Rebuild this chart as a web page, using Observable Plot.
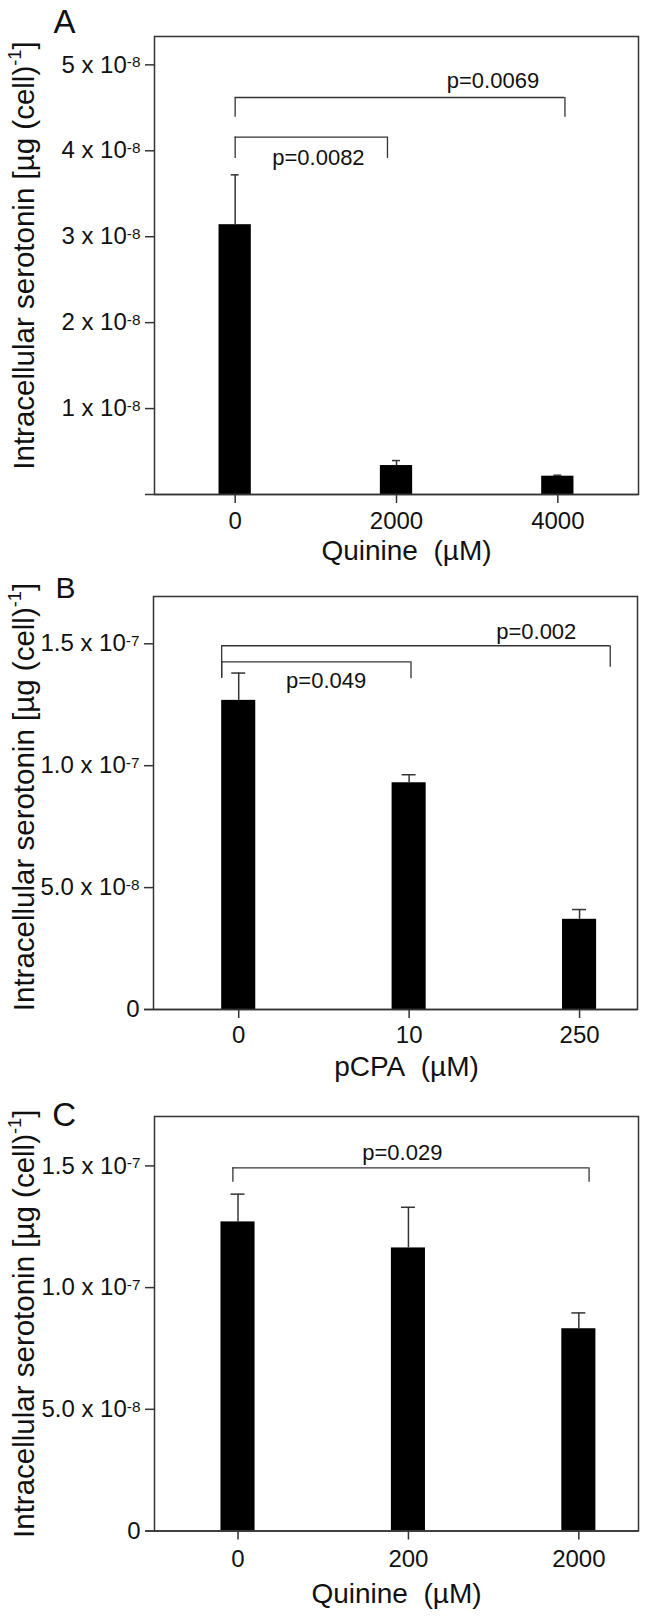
<!DOCTYPE html>
<html><head><meta charset="utf-8">
<script src="https://cdn.jsdelivr.net/npm/d3@7"></script>
<script src="https://cdn.jsdelivr.net/npm/@observablehq/plot@0.6"></script>
<style>
body{margin:0;background:#fff;}
#wrap{position:relative;width:646px;height:1618px;overflow:hidden;}
.panel{position:absolute;left:0;}
</style></head>
<body><div id="wrap"></div>
<script>
// ---------- Panel A: Quinine ----------
const catsA = ["0", "2000", "4000"];
const meanA = [3.14e-8, 0.337e-8, 0.213e-8];
const semA = [0.58e-8, 0.058e-8, 0.011e-8];
const yTicksA = [1e-8, 2e-8, 3e-8, 4e-8, 5e-8];
const yTickLabelsA = ["1 x 10^-8", "2 x 10^-8", "3 x 10^-8", "4 x 10^-8", "5 x 10^-8"];
const brFromA = [0, 0];
const brToA = [0.944, 2.044];
const brYA = [4.16e-8, 4.62e-8];
const brLeftEndA = [3.91e-8, 4.39e-8];
const brRightEndA = [3.91e-8, 4.39e-8];
const pTextA = ["p=0.0082", "p=0.0069"];
const pXA = [0.516, 1.598];
const pYA = [3.834e-8, 4.729e-8];

// ---------- Panel B: pCPA ----------
const catsB = ["0", "10", "250"];
const meanB = [1.268e-7, 0.930e-7, 0.370e-7];
const semB = [0.112e-7, 0.033e-7, 0.040e-7];
const yTicksB = [0, 5e-8, 1e-7, 1.5e-7];
const yTickLabelsB = ["0", "5.0 x 10^-8", "1.0 x 10^-7", "1.5 x 10^-7"];
const brFromB = [-0.1, -0.1];
const brToB = [1.011, 2.18];
const brYB = [1.426e-7, 1.492e-7];
const brLeftEndB = [1.359e-7, 1.359e-7];
const brRightEndB = [1.357e-7, 1.404e-7];
const pTextB = ["p=0.049", "p=0.002"];
const pXB = [0.513, 1.746];
const pYB = [1.317e-7, 1.519e-7];

// ---------- Panel C: Quinine ----------
const catsC = ["0", "200", "2000"];
const meanC = [1.270e-7, 1.163e-7, 0.831e-7];
const semC = [0.114e-7, 0.167e-7, 0.065e-7];
const yTicksC = [0, 5e-8, 1e-7, 1.5e-7];
const yTickLabelsC = ["0", "5.0 x 10^-8", "1.0 x 10^-7", "1.5 x 10^-7"];
const brFromC = [-0.03];
const brToC = [2.06];
const brYC = [1.492e-7];
const brLeftEndC = [1.433e-7];
const brRightEndC = [1.433e-7];
const pTextC = ["p=0.029"];
const pXC = [0.964];
const pYC = [1.525e-7];

const letters = ["A", "B", "C"];
const xTitles = ["Quinine\u00a0 (\u00b5M)", "pCPA\u00a0 (\u00b5M)", "Quinine\u00a0 (\u00b5M)"];
const yTitle = "Intracellular serotonin [\u00b5g (cell)^-1^]";

const FONT = '"Liberation Sans", Arial, Helvetica, sans-serif';
const LINE = "#333";

function addSup(svg) {
  svg.querySelectorAll("text").forEach(t => {
    const s = t.textContent;
    if (!s.includes("^")) return;
    const parts = s.split("^");
    const fs = parseFloat(getComputedStyle(t).fontSize) || 22;
    const big = s.length > 20;
    const shift = (big ? 0.42 : 0.22) * fs;
    const supSize = (big ? 0.62 : 0.64) * fs;
    t.textContent = "";
    parts.forEach((p, k) => {
      const ts = document.createElementNS("http://www.w3.org/2000/svg", "tspan");
      ts.textContent = p;
      if (k === 1) { ts.setAttribute("font-size", supSize); ts.setAttribute("dy", -shift); }
      if (k === 2) { ts.setAttribute("dy", shift); }
      t.appendChild(ts);
    });
  });
}

function panel(o) {
  const idx = o.cats.map((_, i) => i);
  const bIdx = o.brFrom.map((_, i) => i);
  const pIdx = o.pText.map((_, i) => i);
  const chart = Plot.plot({
    width: 646,
    height: o.height,
    marginTop: o.m[0], marginRight: o.m[1], marginBottom: o.m[2], marginLeft: o.m[3],
    style: {fontFamily: FONT, color: "#111", background: "white", overflow: "visible"},
    x: {type: "linear", domain: o.xDomain},
    y: {domain: o.yDomain},
    marks: [
      Plot.rect(idx, {x1: i => i - 0.1, x2: i => i + 0.1, y1: 0, y2: i => o.mean[i], fill: "black"}),
      Plot.ruleX(idx, {x: i => i, y1: i => o.mean[i], y2: i => o.mean[i] + o.sem[i], stroke: LINE, strokeWidth: 1.5}),
      Plot.ruleY(idx, {y: i => o.mean[i] + o.sem[i], x1: i => i, x2: i => i, insetLeft: -o.cap, insetRight: -o.cap, stroke: LINE, strokeWidth: 1.5}),
      Plot.ruleY(bIdx, {y: i => o.brY[i], x1: i => o.brFrom[i], x2: i => o.brTo[i], stroke: LINE, strokeWidth: 1.3}),
      Plot.ruleX(bIdx, {x: i => o.brFrom[i], y1: i => o.brY[i], y2: i => o.brLeftEnd[i], stroke: LINE, strokeWidth: 1.3}),
      Plot.ruleX(bIdx, {x: i => o.brTo[i], y1: i => o.brY[i], y2: i => o.brRightEnd[i], stroke: LINE, strokeWidth: 1.3}),
      Plot.text(pIdx, {x: i => o.pX[i], y: i => o.pY[i], text: i => o.pText[i], lineAnchor: "bottom", fontSize: 22, fill: "#111"}),
      Plot.frame({stroke: LINE, strokeWidth: 1.5}),
      Plot.ruleY([0], {insetLeft: -9, stroke: LINE, strokeWidth: 1.5}),
      Plot.axisY({ticks: o.yTicks, tickFormat: d => o.yTickLabels[o.yTicks.indexOf(d)], tickSize: 9, tickPadding: 5, fontSize: 24, label: null, stroke: LINE, strokeWidth: 1.5}),
      Plot.axisX({ticks: idx, tickFormat: d => o.cats[d], tickSize: 9, tickPadding: o.xPad, fontSize: 24, label: null, stroke: LINE, strokeWidth: 1.5}),
      Plot.text([o.xTitle], {text: d => d, frameAnchor: "bottom", dx: o.xtDx, dy: o.xtDy, lineAnchor: "bottom", fontSize: 28, fill: "#111"}),
      Plot.text([yTitle], {text: d => d, frameAnchor: "left", dx: o.ytDx, dy: o.ytDy, rotate: -90, lineAnchor: "bottom", textAnchor: "middle", fontSize: 29.5, fill: "#111"}),
      Plot.text([o.letter], {text: d => d, frameAnchor: "top-left", dx: o.lDx, dy: o.lDy, lineAnchor: "bottom", textAnchor: "start", fontSize: o.lSize, fill: "#111"})
    ]
  });
  chart.classList.add("panel");
  chart.style.top = o.top + "px";
  document.getElementById("wrap").appendChild(chart);
  addSup(chart);
}

panel({
  cats: catsA, mean: meanA, sem: semA, yTicks: yTicksA, yTickLabels: yTickLabelsA,
  brFrom: brFromA, brTo: brToA, brY: brYA, brLeftEnd: brLeftEndA, brRightEnd: brRightEndA,
  pText: pTextA, pX: pXA, pY: pYA,
  top: 0, height: 570, m: [36, 8, 76, 154], xDomain: [-0.5, 2.5], yDomain: [0, 5.33e-8],
  cap: 4, xPad: 8, xTitle: xTitles[0], xtDx: 10, xtDy: 65, ytDx: -120.7, ytDy: -10,
  letter: letters[0], lDx: -101, lDy: -4, lSize: 33
});
panel({
  cats: catsB, mean: meanB, sem: semB, yTicks: yTicksB, yTickLabels: yTickLabelsB,
  brFrom: brFromB, brTo: brToB, brY: brYB, brLeftEnd: brLeftEndB, brRightEnd: brRightEndB,
  pText: pTextB, pX: pXB, pY: pYB,
  top: 570, height: 520, m: [26, 9, 81, 153], xDomain: [-0.5, 2.34], yDomain: [0, 1.694e-7],
  cap: 7, xPad: 7, xTitle: xTitles[1], xtDx: 11, xtDy: 66, ytDx: -120, ytDy: -6,
  letter: letters[1], lDx: -98, lDy: 1, lSize: 30
});
panel({
  cats: catsC, mean: meanC, sem: semC, yTicks: yTicksC, yTickLabels: yTickLabelsC,
  brFrom: brFromC, brTo: brToC, brY: brYC, brLeftEnd: brLeftEndC, brRightEnd: brRightEndC,
  pText: pTextC, pX: pXC, pY: pYC,
  top: 1090, height: 528, m: [26, 8, 87.5, 154], xDomain: [-0.49, 2.35], yDomain: [0, 1.703e-7],
  cap: 7, xPad: 10, xTitle: xTitles[2], xtDx: 0, xtDy: 71.5, ytDx: -121, ytDy: 0,
  letter: letters[2], lDx: -102.3, lDy: 9, lSize: 33
});
</script>
</body></html>
